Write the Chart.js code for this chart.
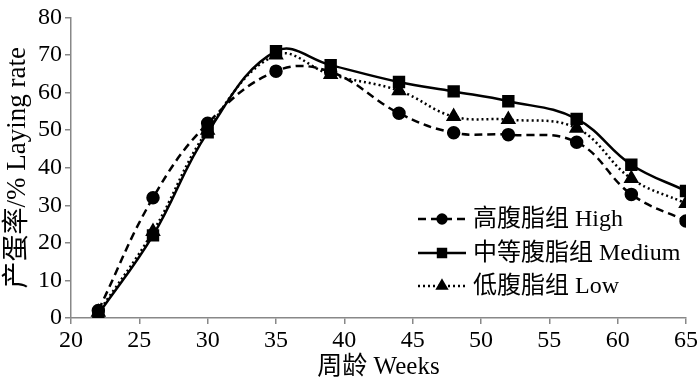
<!DOCTYPE html>
<html>
<head>
<meta charset="utf-8">
<script src="https://cdn.jsdelivr.net/npm/chart.js@4"></script>
<style>
  html, body { margin: 0; padding: 0; background: #fff; }
  #wrap { width: 700px; height: 382px; }
</style>
</head>
<body>
<div id="wrap"><canvas id="chartjs-0" width="700" height="382"></canvas></div>
<script>
// weeks of age
var weeks = [22, 26, 30, 35, 39, 44, 48, 52, 57, 61, 65];
// laying rate, %
var highFat = [2.0, 32.0, 51.8, 65.7, 65.5, 54.5, 49.3, 48.8, 46.8, 32.9, 25.8];
var mediumFat = [1.0, 22.0, 49.4, 71.0, 67.3, 62.8, 60.3, 57.7, 53.0, 40.8, 33.8];
var lowFat = [1.5, 23.0, 50.0, 70.0, 64.8, 60.5, 53.6, 52.8, 50.5, 37.1, 30.5];
var seriesLabels = ["高腹脂组 High", "中等腹脂组 Medium", "低腹脂组 Low"];

var fontFam = "'Liberation Serif', 'Noto Sans CJK SC', serif";
var axisColor = "#888888";

function pts(vals) {
  var out = [];
  for (var i = 0; i < weeks.length; i++) {
    out.push({ x: weeks[i], y: vals[i] });
  }
  return out;
}

// legend drawn inside the plot, like the original figure
var legendInPlot = {
  id: "legendInPlot",
  afterDraw: function (chart) {
    var ctx = chart.ctx;
    var x0 = 418, x1 = 466, tx = 473;
    var rows = [219, 253, 286];
    ctx.save();
    chart.data.datasets.forEach(function (ds, i) {
      var y = rows[i];
      ctx.strokeStyle = "#000";
      ctx.lineWidth = ds.borderWidth;
      ctx.setLineDash(ds.borderDash || []);
      ctx.beginPath();
      ctx.moveTo(x0, y);
      ctx.lineTo(x1, y);
      ctx.stroke();
      ctx.setLineDash([]);
      Chart.helpers.drawPoint(ctx, {
        pointStyle: ds.pointStyle,
        radius: ds.pointRadius * 0.8,
        borderWidth: 1
      }, (x0 + x1) / 2, y);
      ctx.fillStyle = "#000";
      ctx.font = "24px " + fontFam;
      ctx.textBaseline = "middle";
      ctx.fillText(ds.label, tx, y + 1);
    });
    ctx.restore();
  }
};

var ctx0 = document.getElementById("chartjs-0");
var myChart = new Chart(ctx0, {
  type: "line",
  data: {
    datasets: [
      {
        label: seriesLabels[0],
        data: pts(highFat),
        borderColor: "#000",
        backgroundColor: "#000",
        borderWidth: 2.5,
        borderDash: [8, 5],
        pointStyle: "circle",
        pointRadius: 5.5,
        tension: 0.4,
        fill: false
      },
      {
        label: seriesLabels[1],
        data: pts(mediumFat),
        borderColor: "#000",
        backgroundColor: "#000",
        borderWidth: 2.5,
        pointStyle: "rect",
        pointRadius: 7,
        tension: 0.4,
        fill: false
      },
      {
        label: seriesLabels[2],
        data: pts(lowFat),
        borderColor: "#000",
        backgroundColor: "#000",
        borderWidth: 2.5,
        borderDash: [2, 3],
        pointStyle: "triangle",
        pointRadius: 6.5,
        tension: 0.4,
        fill: false
      }
    ]
  },
  options: {
    responsive: false,
    animation: false,
    layout: { padding: { top: 10, right: 12, left: 0, bottom: 0 } },
    plugins: {
      legend: { display: false },
      tooltip: { enabled: false }
    },
    scales: {
      x: {
        type: "linear",
        min: 20,
        max: 65,
        afterFit: function (s) { s.height = 64; },
        ticks: {
          stepSize: 5,
          color: "#000",
          padding: 2,
          font: { family: fontFam, size: 24 }
        },
        grid: { drawOnChartArea: false, tickLength: 6, color: axisColor, lineWidth: 1.5 },
        border: { color: axisColor, width: 1.5 },
        title: {
          display: true,
          text: "周龄 Weeks",
          color: "#000",
          padding: { top: 0, bottom: 0 },
          font: { family: fontFam, size: 25 }
        }
      },
      y: {
        min: 0,
        max: 80,
        afterFit: function (s) { s.width = 71; },
        ticks: {
          stepSize: 10,
          color: "#000",
          padding: 3,
          font: { family: fontFam, size: 24 }
        },
        grid: { drawOnChartArea: false, tickLength: 6, color: axisColor, lineWidth: 1.5 },
        border: { color: axisColor, width: 1.5 },
        title: {
          display: true,
          text: "产蛋率/% Laying rate",
          color: "#000",
          padding: { top: 2, bottom: 0 },
          font: { family: fontFam, size: 27 }
        }
      }
    }
  },
  plugins: [legendInPlot]
});
</script>
</body>
</html>
